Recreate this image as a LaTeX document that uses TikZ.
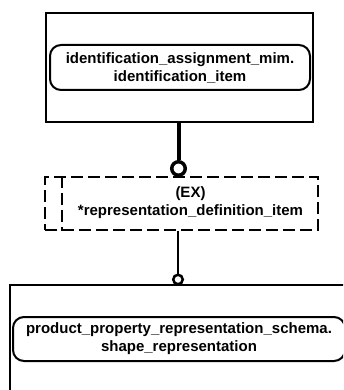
\documentclass[tikz,border=0pt]{standalone}
\usepackage{fontspec}
\setmainfont{Liberation Sans}
\usetikzlibrary{positioning}
\tikzset{%
  entbox/.style  = {shape=rectangle, draw, line width=2.5pt, inner sep=0pt},%
  selbox/.style  = {shape=rectangle, draw, line width=2.5pt, inner sep=0pt,%
                    dash pattern=on 12pt off 5pt},%
  refnode/.style = {shape=rectangle, rounded corners=11pt, draw,%
                    line width=2pt, align=center, inner sep=0pt,%
                    font=\bfseries\fontsize{15}{18}\selectfont},%
  seltext/.style = {align=center, inner sep=0pt,%
                    font=\bfseries\fontsize{15}{18}\selectfont},%
  endring/.style = {circle, draw, fill=white, inner sep=0pt}%
}
\begin{document}
\begin{tikzpicture}[x=1pt,y=-1pt]
	\useasboundingbox (0,0) rectangle (343,390);
	\clip (0,0) rectangle (343,390);
	% upper entity
	\node[entbox, minimum width=267pt, minimum height=109pt] (idbox) at (179.5,67.5) {};
	\node[refnode, minimum width=260pt, minimum height=45pt] (idref) at (180,67.5)
		{identification\_assignment\_mim.\\identification\_item};
	% select type
	\node[selbox, minimum width=273pt, minimum height=53pt] (exbox) at (181.5,203.5) {};
	\draw[line width=2.5pt, dash pattern=on 12pt off 5pt]
		([xshift=18pt]exbox.north west) -- ([xshift=18pt]exbox.south west);
	\node[seltext] (extext) at (190.5,203) {(EX)\\*representation\_definition\_item};
	% lower entity
	\node[entbox, minimum width=360pt, minimum height=160pt] (shapebox) at (190,365) {};
	\node[refnode, minimum width=332pt, minimum height=44pt] (shaperef) at (179,339)
		{product\_property\_representation\_schema.\\shape\_representation};
	% relations
	\node[endring, line width=3.5pt, minimum size=13.5pt] (ring1) at (178.5,168.5) {};
	\node[endring, line width=2.5pt, minimum size=9.5pt] (ring2) at (178,279.5) {};
	\draw[line width=4pt] (idbox.south -| ring1) -- (ring1.north);
	\draw[line width=2pt] (exbox.south -| ring2) -- (ring2.north);
\end{tikzpicture}
\end{document}
